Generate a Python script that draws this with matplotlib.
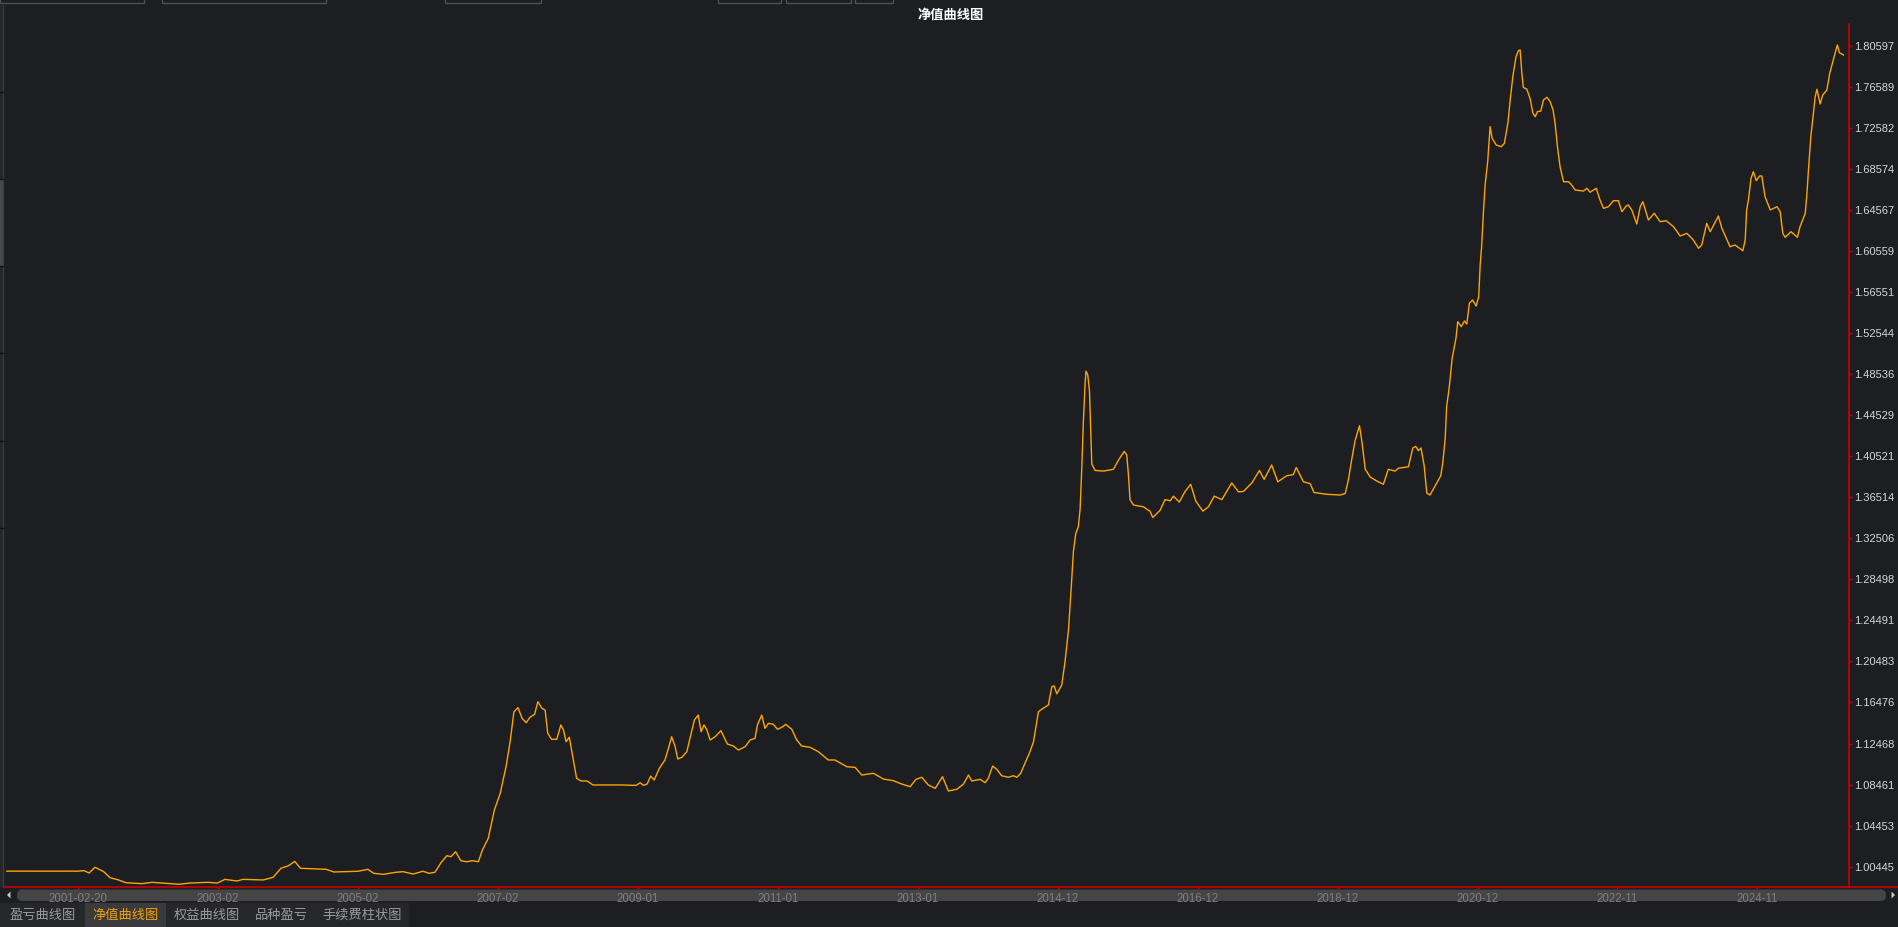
import matplotlib.pyplot as plt
from matplotlib.patches import Rectangle, FancyBboxPatch, Polygon

# ---- data ----
# x = bar number on the chart's category axis, y = net value
bar_idx = [
    3, 244, 268, 285, 305, 335, 357, 386, 411, 466, 501, 535, 593, 631, 692, 725,
    751, 792, 813, 882, 916, 943, 969, 990, 1010, 1098, 1125, 1207, 1241, 1261,
    1295, 1336, 1362, 1396, 1430, 1451, 1471, 1492, 1512, 1526, 1542, 1560, 1580,
    1600, 1620, 1634, 1654, 1675, 1695, 1715, 1729, 1742, 1756, 1770, 1784, 1797,
    1813, 1824, 1838, 1849, 1858, 1871, 1889, 1903, 1912, 1921, 1932, 1946, 1957,
    1972, 1993, 2013, 2106,
    2161, 2175, 2186, 2199, 2211, 2223, 2241, 2260, 2272, 2283, 2295, 2304, 2318,
    2335, 2346, 2361, 2374, 2384, 2394, 2403, 2415, 2432, 2452, 2474, 2495, 2512,
    2535, 2552, 2569, 2577, 2592, 2603, 2615, 2632, 2646, 2661, 2674, 2695, 2712,
    2729, 2758, 2786, 2820, 2843, 2884, 2912, 2935, 2975, 3009, 3043, 3072, 3101,
    3121, 3141, 3163, 3187, 3212, 3232, 3261, 3284, 3301, 3312, 3341, 3358, 3369,
    3384, 3398, 3415, 3438, 3455, 3467, 3480, 3495, 3512, 3524, 3541, 3552, 3575,
    3587, 3595, 3604, 3621,
    3632, 3644, 3652, 3661, 3669, 3678, 3684, 3690, 3695, 3701, 3704, 3710, 3716,
    3719, 3724, 3735, 3764, 3798, 3815, 3835, 3844, 3850, 3855, 3867, 3901, 3924,
    3933, 3958, 3975, 3993, 4004, 4024, 4044, 4063, 4081, 4105, 4124, 4144, 4170,
    4204, 4227, 4244, 4273, 4299, 4315, 4341, 4362, 4393, 4415, 4425, 4450, 4473,
    4486, 4530, 4576, 4593, 4604, 4616, 4627, 4642, 4650, 4662, 4679, 4702, 4724,
    4741, 4764, 4776, 4810, 4825, 4835, 4844, 4853, 4864, 4873, 4884, 4907, 4921,
    4928, 4936, 4941, 4950,
    4960, 4973, 4979, 4991, 5002, 5010, 5019, 5030, 5042, 5051, 5056, 5061, 5067,
    5073, 5082, 5090, 5097, 5111, 5128, 5139, 5151, 5159, 5168, 5179, 5187, 5193,
    5199, 5204, 5216, 5227, 5237, 5245, 5252, 5264, 5273, 5285, 5296, 5306, 5313,
    5321, 5330, 5342, 5359, 5367, 5382, 5410, 5422, 5433, 5454, 5467, 5479, 5496,
    5513, 5530, 5542, 5557, 5564, 5576, 5593, 5605, 5614, 5633, 5653, 5673, 5694,
    5719, 5742, 5765, 5787, 5805, 5816, 5833, 5845, 5873, 5885, 5913, 5930, 5957,
    5965, 5970, 5976, 5985, 5993, 6003, 6014, 6022, 6033, 6051, 6074, 6085, 6094,
    6102, 6122, 6144, 6153, 6171, 6176, 6182, 6190, 6199, 6205, 6211, 6222, 6231,
    6245, 6255, 6267, 6281, 6288, 6302,
]
nav = [
    1.0000, 1.0000, 1.0005, 0.9982, 1.0038, 0.9995, 0.9936, 0.9914, 0.9887, 0.9878,
    0.9891, 0.9884, 0.9872, 0.9884, 0.9891, 0.9884, 0.9920, 0.9904, 0.9920, 0.9914,
    0.9940, 1.0028, 1.0053, 1.0096, 1.0028, 1.0018, 0.9992, 0.9999, 1.0018, 0.9979,
    0.9969, 0.9989, 0.9995, 0.9972, 0.9999, 0.9979, 0.9989, 1.0083, 1.0151, 1.0141,
    1.0190, 1.0102, 1.0092, 1.0102, 1.0092, 1.0207, 1.0321, 1.0597, 1.0760, 1.1020,
    1.1264, 1.1557, 1.1597, 1.1493, 1.1450, 1.1503, 1.1532, 1.1655, 1.1591, 1.1574,
    1.1347, 1.1288, 1.1288, 1.1428, 1.1379, 1.1264, 1.1308, 1.1086, 1.0907, 1.0881,
    1.0881, 1.0842, 1.0842,
    1.0838, 1.0864, 1.0838, 1.0851, 1.0929, 1.0890, 1.1005, 1.1086, 1.1200, 1.1313,
    1.1216, 1.1096, 1.1112, 1.1167, 1.1298, 1.1476, 1.1525, 1.1362, 1.1428, 1.1386,
    1.1281, 1.1313, 1.1372, 1.1242, 1.1222, 1.1183, 1.1216, 1.1281, 1.1298, 1.1428,
    1.1525, 1.1395, 1.1444, 1.1434, 1.1386, 1.1405, 1.1434, 1.1386, 1.1281, 1.1222,
    1.1210, 1.1167, 1.1086, 1.1086, 1.1020, 1.1014, 1.0939, 1.0956, 1.0900, 1.0884,
    1.0851, 1.0825, 1.0897, 1.0917, 1.0842, 1.0809, 1.0923, 1.0783, 1.0800, 1.0851,
    1.0939, 1.0881, 1.0897, 1.0864, 1.0907, 1.1027, 1.0995, 1.0932, 1.0917, 1.0932,
    1.0917, 1.0956, 1.1054, 1.1167, 1.1264, 1.1557, 1.1581, 1.1623, 1.1802, 1.1809,
    1.1732, 1.1820,
    1.2042, 1.2355, 1.2704, 1.3123, 1.3297, 1.3367, 1.3541, 1.3960, 1.4378, 1.4762,
    1.4884, 1.4850, 1.4693, 1.4413, 1.3978, 1.3914, 1.3908, 1.3925, 1.4012, 1.4100,
    1.4065, 1.3856, 1.3629, 1.3576, 1.3559, 1.3514, 1.3454, 1.3524, 1.3629, 1.3618,
    1.3663, 1.3605, 1.3709, 1.3779, 1.3612, 1.3517, 1.3559, 1.3663, 1.3629, 1.3792,
    1.3705, 1.3709, 1.3792, 1.3914, 1.3827, 1.3967, 1.3803, 1.3863, 1.3873, 1.3943,
    1.3803, 1.3785, 1.3699, 1.3681, 1.3674, 1.3688, 1.3821, 1.4030, 1.4205, 1.4351,
    1.4205, 1.3925, 1.3849, 1.3810, 1.3779, 1.3925, 1.3908, 1.3936, 1.3950, 1.4134,
    1.4149, 1.4107, 1.4134, 1.3960, 1.3692, 1.3674, 1.3792, 1.3863, 1.3995, 1.4222,
    1.4536, 1.4728,
    1.5009, 1.5205, 1.5367, 1.5318, 1.5374, 1.5344, 1.5547, 1.5579, 1.5520, 1.5611,
    1.5921, 1.6099, 1.6426, 1.6702, 1.6936, 1.7272, 1.7158, 1.7093, 1.7076, 1.7109,
    1.7305, 1.7532, 1.7760, 1.7955, 1.8014, 1.8021, 1.7793, 1.7656, 1.7637, 1.7549,
    1.7402, 1.7369, 1.7418, 1.7425, 1.7532, 1.7559, 1.7516, 1.7435, 1.7305, 1.7076,
    1.6881, 1.6734, 1.6734, 1.6712, 1.6653, 1.6643, 1.6670, 1.6631, 1.6670, 1.6556,
    1.6474, 1.6490, 1.6549, 1.6549, 1.6441, 1.6497, 1.6507, 1.6458, 1.6321, 1.6490,
    1.6539, 1.6360, 1.6426, 1.6344, 1.6353, 1.6295, 1.6204, 1.6230, 1.6165, 1.6084,
    1.6116, 1.6328, 1.6246, 1.6399, 1.6279, 1.6099, 1.6116, 1.6060, 1.6165, 1.6458,
    1.6556, 1.6767, 1.6832, 1.6744, 1.6790, 1.6790, 1.6588, 1.6458, 1.6490, 1.6441,
    1.6230, 1.6191, 1.6246, 1.6191, 1.6295, 1.6426, 1.6588, 1.6849, 1.7174, 1.7402,
    1.7565, 1.7637, 1.7493, 1.7581, 1.7630, 1.7793, 1.7923, 1.8070, 1.7994, 1.7972,
]

xtick_pos = [247 + 480 * k for k in range(13)]
xtick_labels = ['2001-02-20', '2003-02', '2005-02', '2007-02', '2009-01', '2011-01',
                '2013-01', '2014-12', '2016-12', '2018-12', '2020-12', '2022-11', '2024-11']
ytick_labels = ['1.00445', '1.04453', '1.08461', '1.12468', '1.16476', '1.20483',
                '1.24491', '1.28498', '1.32506', '1.36514', '1.40521', '1.44529',
                '1.48536', '1.52544', '1.56551', '1.60559', '1.64567', '1.68574',
                '1.72582', '1.76589', '1.80597']
tabs = ['盈亏曲线图', '净值曲线图', '权益曲线图', '品种盈亏', '手续费柱状图']
active_tab = 1

# ---- style ----
BG = '#1d1e22'
RED = '#c80000'
LINE = '#ffa500'
CJK = ['Noto Sans CJK SC', 'DejaVu Sans']
plt.rcParams['font.family'] = ['Liberation Sans', 'Noto Sans CJK SC', 'DejaVu Sans']

W, H = 1898, 927
fig = plt.figure(figsize=(W / 100, H / 100), dpi=100, facecolor=BG)

# pixel-space layer for the window chrome
bg = fig.add_axes([0, 0, 1, 1], zorder=0)
bg.set_xlim(0, W)
bg.set_ylim(H, 0)
bg.axis('off')

# toolbar boxes cut off at the top
for x0, x1 in [(0, 144), (162, 326), (445, 541), (718, 781), (786, 851), (855, 893)]:
    bg.add_patch(Rectangle((x0, -10), x1 - x0, 13, fill=False, ec='#505050', lw=1))

# left edge strip
bg.add_patch(Rectangle((0, 5), 3, 882, fc='#26272b', ec='none'))
bg.add_patch(Rectangle((0, 179), 3, 87, fc='#48494c', ec='none'))
bg.plot([3.5, 3.5], [5, 887], color='#3a3b3f', lw=1)
for yy in [92, 179, 266, 353, 441, 528]:
    bg.plot([0, 3], [yy, yy], color='#111214', lw=1)

# title
bg.text(951, 15, '净值曲线图', ha='center', va='center', color='white',
        fontsize=9.5, fontweight='bold', family=CJK)

# bottom axis line across the full width
bg.plot([4, W], [887, 887], color=RED, lw=1.2)

# scrollbar
bg.add_patch(FancyBboxPatch((17, 889.5), 1869, 11.5, boxstyle='round,pad=0,rounding_size=5.5',
                            fc='#454545', ec='none'))
bg.add_patch(Polygon([[7, 895], [10.5, 891.5], [10.5, 898.5]], closed=True, fc='#c8c8c8', ec='none'))
bg.add_patch(Polygon([[1895, 895], [1891.5, 891.5], [1891.5, 898.5]], closed=True, fc='#c8c8c8', ec='none'))

# tab bar
bg.add_patch(Rectangle((0, 903), 409, 24, fc='#26272a', ec='none'))
tab_spans = [(0, 85), (85, 166), (166, 247), (247, 316), (316, 409)]
for i, (name, (x0, x1)) in enumerate(zip(tabs, tab_spans)):
    if i == active_tab:
        bg.add_patch(Rectangle((x0, 903), x1 - x0, 24, fc='#3b3b3d', ec='none'))
    bg.text((x0 + x1) / 2, 915, name, ha='center', va='center', fontsize=9.5, family=CJK,
            color='#f0a30a' if i == active_tab else '#9b9b9b')

# ---- main chart ----
ax = fig.add_axes([6 / W, (H - 887) / H, (1849 - 6) / W, (887 - 24) / H], zorder=1)
ax.set_facecolor('none')
ax.plot(bar_idx, nav, color=LINE, lw=1.0)

ax.set_xlim(0, 6321)
ax.set_ylim(0.98453, 1.82746)

for side in ['top', 'left', 'bottom']:
    ax.spines[side].set_visible(False)
ax.spines['right'].set_color(RED)
ax.spines['right'].set_linewidth(1.2)

ax.yaxis.tick_right()
ax.set_yticks([float(s) for s in ytick_labels], ytick_labels)
ax.tick_params(axis='y', direction='out', length=2, width=1, color=RED,
               labelcolor='#d6d6d6', labelsize=8, pad=2)

ax.set_xticks(xtick_pos, xtick_labels)
ax.tick_params(axis='x', direction='out', length=2, width=1, color=RED,
               labelcolor='#7e7e7e', labelsize=8.3, pad=2.5)

fig.savefig('out.png', dpi=100, facecolor=BG)
